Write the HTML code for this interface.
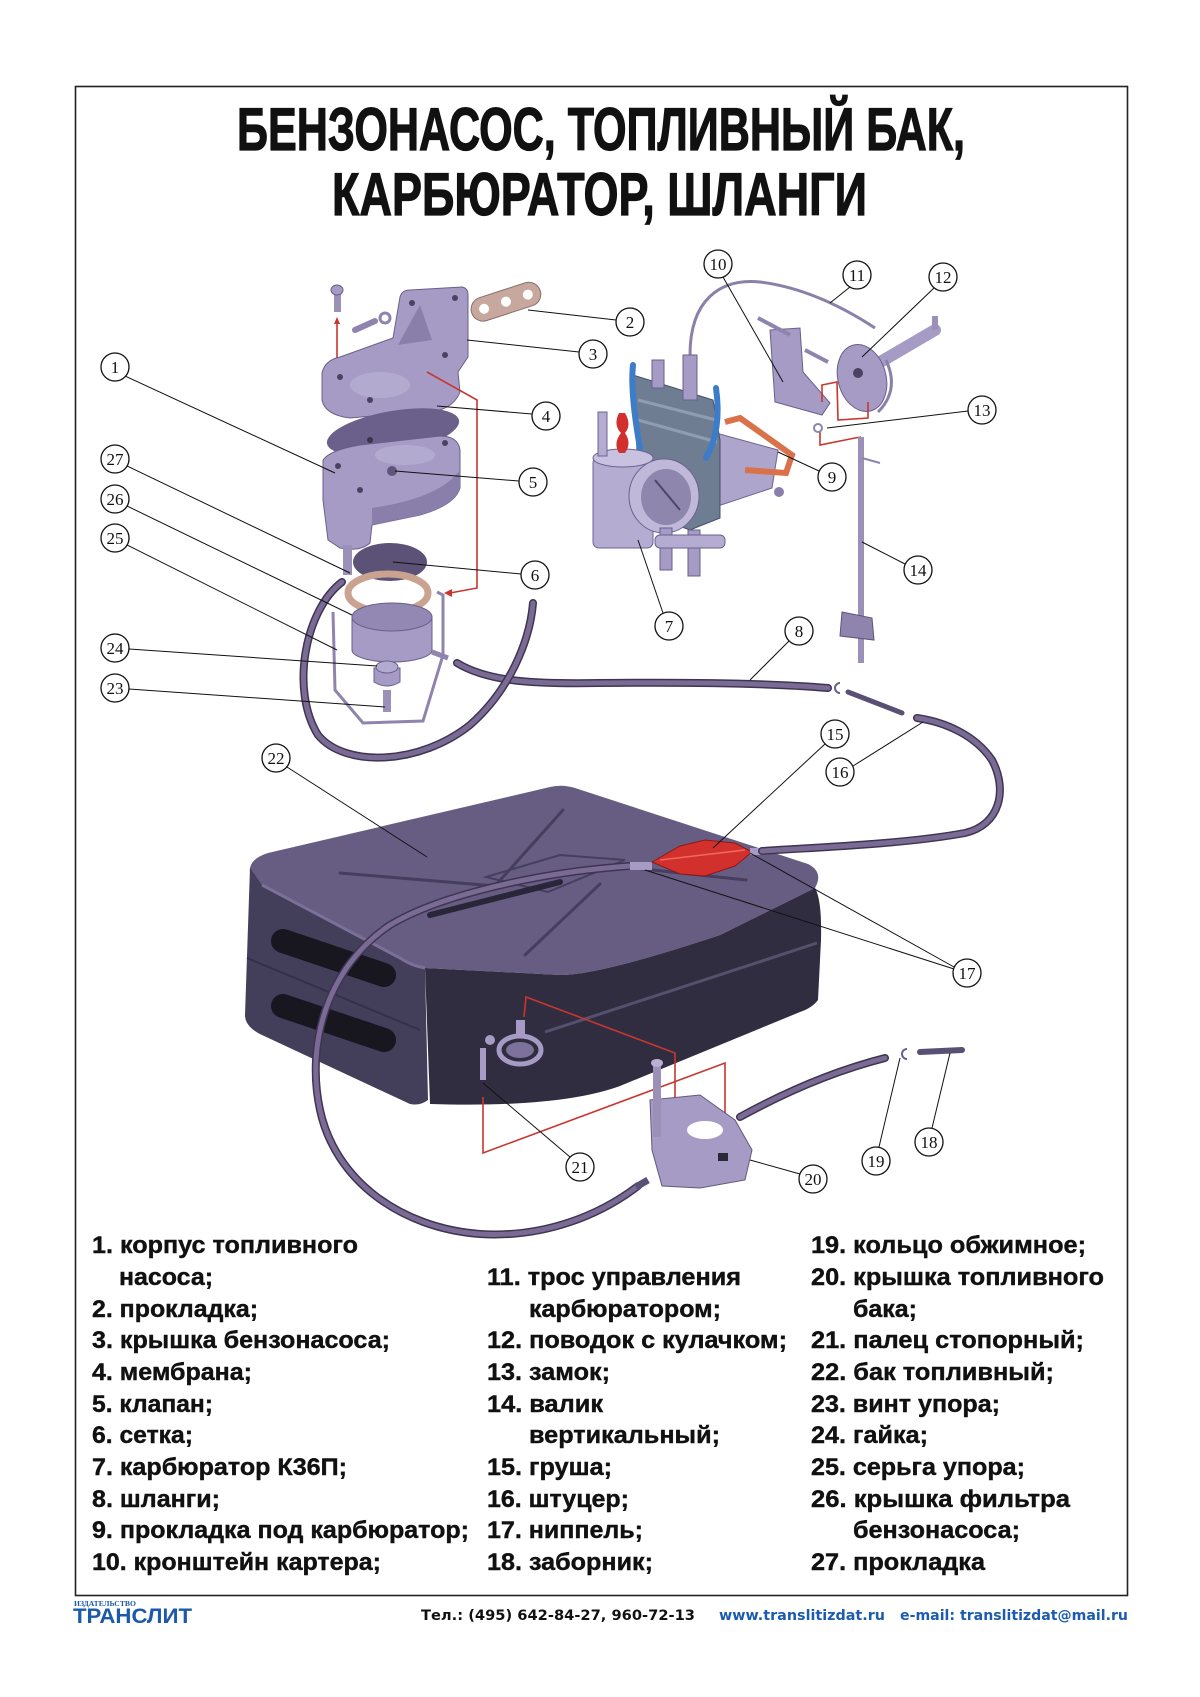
<!DOCTYPE html>
<html><head><meta charset="utf-8"><style>
html,body{margin:0;padding:0;background:#fff;}
svg{display:block;}
.t{font-family:"Liberation Sans","DejaVu Sans",sans-serif;font-weight:bold;fill:#111;}
.n{font-family:"Liberation Serif","DejaVu Serif",serif;font-size:17px;fill:#111;text-anchor:middle;}
.c{fill:#fff;stroke:#111;stroke-width:1.3;}
.l{stroke:#111;stroke-width:1;fill:none;}
.met{fill:#a59bc4;stroke:#6a5f8c;stroke-width:1;}
.hose{fill:none;stroke:#3f3452;stroke-width:8;stroke-linecap:round;}
.hosei{fill:none;stroke:#7a6b95;stroke-width:5;stroke-linecap:round;}
.red{fill:none;stroke:#c8362e;stroke-width:1.6;}
</style></head><body>
<svg width="1200" height="1697" viewBox="0 0 1200 1697" xmlns="http://www.w3.org/2000/svg">
<rect x="0" y="0" width="1200" height="1697" fill="#fff"/>
<rect x="75.5" y="86.5" width="1052" height="1509" fill="none" stroke="#222" stroke-width="1.6"/>

<!-- Title -->
<text class="t" x="237" y="150" font-size="60" stroke="#111" stroke-width="1.2" textLength="728" lengthAdjust="spacingAndGlyphs">БЕНЗОНАСОС, ТОПЛИВНЫЙ БАК,</text>
<text class="t" x="332" y="215" font-size="60" stroke="#111" stroke-width="1.2" textLength="535" lengthAdjust="spacingAndGlyphs">КАРБЮРАТОР, ШЛАНГИ</text>

<!-- ============ TANK ============ -->
<path d="M250,868 Q252,858 268,853 L550,787 Q562,784 575,788 L808,864 Q824,872 815,888 L720,935 Q600,975 560,975 L425,968 Q410,966 400,958 L262,885 Q248,878 250,868 Z" fill="#675d83"/>
<path d="M250,868 L262,885 L400,958 Q412,966 425,968 L428,1100 Q420,1106 410,1104 L262,1035 Q245,1027 245,1015 Z" fill="#433e5a"/>
<path d="M425,968 L560,975 Q600,975 720,935 L815,888 Q822,900 821,940 L818,1000 Q812,1008 800,1012 L620,1086 Q560,1108 430,1104 Z" fill="#302d40"/>
<path d="M545,1032 L817,943" stroke="#55506e" stroke-width="3" fill="none"/>
<path d="M247,958 L420,1030" stroke="#34304a" stroke-width="2" fill="none"/>
<!-- lighter rim of left face -->
<path d="M262,885 L400,958 Q412,966 425,968" fill="none" stroke="#7a7098" stroke-width="3"/>
<!-- slots -->
<line x1="283" y1="941" x2="384" y2="975" stroke="#18161f" stroke-width="24" stroke-linecap="round"/>
<line x1="283" y1="1006" x2="384" y2="1040" stroke="#18161f" stroke-width="24" stroke-linecap="round"/>
<!-- embossing on top -->
<g stroke="#463e5e" stroke-width="3" fill="none" stroke-linecap="round">
<path d="M340,873 L495,886"/>
<path d="M495,886 L563,810"/>
<path d="M615,866 L746,880"/>
<path d="M600,884 L525,955"/>
<path d="M486,877 L560,855 L625,860 L548,892 Z" stroke-width="2"/>
<path d="M430,915 L560,882" stroke="#2a263a" stroke-width="6"/>
</g>
<!-- filler cap area -->
<ellipse cx="520" cy="1050" rx="21" ry="14" fill="none" stroke="#a59bc4" stroke-width="5"/>
<ellipse cx="520" cy="1050" rx="14" ry="8" fill="#7d7299"/>
<rect x="516" y="1020" width="9" height="16" fill="#a59bc4"/>
<circle cx="490" cy="1040" r="5" fill="#a59bc4"/>
<rect x="480" y="1048" width="6" height="32" fill="#a59bc4"/>

<!-- red assembly lines at tank -->
<path class="red" d="M524,1017 L526,997 L675,1053 L675,1130"/>
<path class="red" d="M483,1097 L483,1153 L725,1063 L725,1140"/>

<!-- cap 20 -->
<path d="M650,1100 L700,1095 L735,1120 L752,1150 L745,1180 L700,1188 L662,1186 L652,1150 Z" fill="#a59bc4" stroke="#62587f" stroke-width="1"/>
<ellipse cx="705" cy="1130" rx="18" ry="9" fill="#fff"/>
<rect x="653" y="1062" width="8" height="75" fill="#9a90b8"/>
<ellipse cx="657" cy="1063" rx="6" ry="4" fill="#b9b0d4"/>
<rect x="718" y="1153" width="10" height="8" fill="#2b2838"/>

<!-- hose 19 piece and nipple 18 -->
<path class="hose" d="M740,1117 C780,1095 830,1072 885,1058"/>
<path class="hosei" d="M740,1117 C780,1095 830,1072 885,1058"/>
<path d="M907,1049 A5,5 0 1 0 907,1059" fill="none" stroke="#6a5f8c" stroke-width="2"/>
<line x1="920" y1="1052" x2="962" y2="1050" stroke="#5a4f74" stroke-width="6" stroke-linecap="round"/>

<!-- main hose around tank -->
<path class="hose" d="M630,866 C540,872 440,895 390,925 C330,965 305,1040 320,1110 C335,1180 400,1228 480,1234 C545,1238 600,1215 638,1186"/>
<path class="hosei" d="M630,866 C540,872 440,895 390,925 C330,965 305,1040 320,1110 C335,1180 400,1228 480,1234 C545,1238 600,1215 638,1186"/>
<line x1="636" y1="1187" x2="648" y2="1180" stroke="#5a4f74" stroke-width="7"/>

<!-- pear 15 -->
<rect x="630" y="862" width="22" height="8" fill="#a59bc4"/>
<path d="M652,862 L680,846 L705,840 L735,843 L752,852 L735,866 L705,876 L680,874 Z" fill="#d2302c" stroke="#8c1a17" stroke-width="1"/>
<path d="M660,860 L745,850" stroke="#f06a5c" stroke-width="1.5"/>
<rect x="750" y="848" width="12" height="7" fill="#a59bc4"/>

<!-- hose right loop -->
<path class="hose" d="M917,718 C945,722 975,735 992,760 C1008,790 1000,825 965,833 C900,845 800,848 762,851"/>
<path class="hosei" d="M917,718 C945,722 975,735 992,760 C1008,790 1000,825 965,833 C900,845 800,848 762,851"/>

<!-- hose 8 -->
<path class="hose" d="M457,663 C490,683 540,684 600,683 C700,682 780,684 828,688"/>
<path class="hosei" d="M457,663 C490,683 540,684 600,683 C700,682 780,684 828,688"/>
<path d="M840,683 A5,5 0 1 0 840,693" fill="none" stroke="#6a5f8c" stroke-width="2"/>
<line x1="848" y1="692" x2="902" y2="713" stroke="#5a4f74" stroke-width="5" stroke-linecap="round"/>

<!-- ============ PUMP ============ -->
<path class="hose" d="M342,582 C305,610 290,690 318,735 C345,768 420,765 470,725 C510,690 530,640 533,603"/>
<path class="hosei" d="M342,582 C305,610 290,690 318,735 C345,768 420,765 470,725 C510,690 530,640 533,603"/>
<path d="M333,612 L335,690 L363,723 L423,721 L443,655 L443,595 L437,592" fill="none" stroke="#8f84ad" stroke-width="3"/>
<rect x="334" y="288" width="7" height="24" fill="#9a90b8"/>
<ellipse cx="337" cy="290" rx="6" ry="5" fill="#a59bc4" stroke="#6a5f8c"/>
<path class="red" d="M337,320 L337,370"/>
<path d="M334,324 L337,317 L340,324 Z" fill="#c8362e"/>
<line x1="355" y1="330" x2="375" y2="321" stroke="#8f84ad" stroke-width="6" stroke-linecap="round"/>
<circle cx="385" cy="318" r="5" fill="none" stroke="#8f84ad" stroke-width="3"/>
<g transform="rotate(-18 505 302)">
<rect x="470" y="290" width="72" height="24" rx="12" fill="#c7a89e" stroke="#8a6e6a"/>
<circle cx="483" cy="302" r="5" fill="#fff"/><circle cx="506" cy="302" r="5" fill="#fff"/><circle cx="529" cy="302" r="5" fill="#fff"/>
</g>
<!-- cover 3 -->
<path class="met" d="M322,373 Q325,360 340,357 L393,338 L400,297 Q402,290 410,290 L462,287 Q468,288 468,295 L468,357 L458,372 L460,392 Q455,405 440,410 L350,418 Q325,415 322,400 Z"/>
<path d="M398,345 L420,305 L432,340 Z" fill="#8a7fab"/>
<circle cx="412" cy="303" r="3" fill="#4a4262"/><circle cx="455" cy="298" r="3" fill="#4a4262"/><circle cx="445" cy="355" r="3" fill="#4a4262"/>
<ellipse cx="380" cy="385" rx="30" ry="13" fill="#b3aacf"/>
<circle cx="340" cy="377" r="3" fill="#4a4262"/><circle cx="370" cy="400" r="3" fill="#4a4262"/>
<path class="red" d="M427,372 L477,400 L477,588 L450,593"/>
<path d="M452,589 L444,593 L452,597 Z" fill="#c8362e"/>
<!-- diaphragm 4 -->
<ellipse cx="393" cy="432" rx="67" ry="21" transform="rotate(-10 393 432)" fill="#6b5f8b"/>
<circle cx="370" cy="440" r="3" fill="#3a334e"/>
<!-- body 1 -->
<path class="met" d="M323,460 Q330,450 360,445 L440,436 Q458,436 460,450 L460,488 Q455,505 420,515 L372,525 L370,543 Q360,552 340,548 L328,540 L323,500 Z"/>
<path d="M372,525 L420,515 Q455,505 460,488 L460,470 Q440,498 372,508 Z" fill="#8a7fab"/>
<ellipse cx="405" cy="455" rx="30" ry="10" fill="#b3aacf"/>
<circle cx="392" cy="471" r="5" fill="#5f5479"/>
<circle cx="338" cy="466" r="3" fill="#4a4262"/><circle cx="445" cy="443" r="3" fill="#4a4262"/><circle cx="360" cy="490" r="3" fill="#4a4262"/>
<rect x="343" y="545" width="9" height="30" fill="#9a90b8"/>
<ellipse cx="390" cy="562" rx="37" ry="19" fill="#5c5176"/>
<ellipse cx="388" cy="593" rx="40" ry="19" fill="none" stroke="#c9a38f" stroke-width="7"/>
<path class="met" d="M352,617 L352,650 A40,12 0 0 0 432,650 L432,617 Z"/>
<ellipse cx="392" cy="617" rx="40" ry="14" fill="#9388b3" stroke="#6a5f8c"/>
<line x1="432" y1="652" x2="448" y2="658" stroke="#8f84ad" stroke-width="5"/>
<path class="met" d="M374,668 L374,682 Q387,690 400,682 L400,668 Z"/>
<ellipse cx="387" cy="667" rx="11" ry="6" fill="#b3aacf" stroke="#6a5f8c"/>
<rect x="383" y="690" width="8" height="22" fill="#9a90b8"/>

<!-- ============ CARBURETOR ============ -->
<path d="M690,355 C690,300 720,278 760,282 C800,287 840,305 875,328" fill="none" stroke="#8a80a8" stroke-width="3"/>
<!-- throat behind -->
<path d="M705,430 L778,450 L772,488 L712,508 Z" fill="#aea5cc" stroke="#6d6390"/>
<path d="M725,422 L740,418 L792,455 L786,473 L745,470" fill="none" stroke="#d9724a" stroke-width="6"/>
<circle cx="779" cy="492" r="5" fill="#8a7fab"/>
<!-- main body slab -->
<path d="M633,375 L713,400 L720,440 L720,518 L690,530 L640,512 L636,430 Z" fill="#6f7d92" stroke="#44506a"/>
<path d="M638,400 L716,420 M638,420 L717,442" stroke="#8f9db0" stroke-width="3"/>
<path d="M633,365 Q630,392 640,448" fill="none" stroke="#3d7cc9" stroke-width="6" stroke-linecap="round"/>
<path d="M716,388 Q722,430 706,458" fill="none" stroke="#3d7cc9" stroke-width="6" stroke-linecap="round"/>
<rect x="683" y="355" width="14" height="45" fill="#a59bc4" stroke="#6a5f8c"/>
<rect x="652" y="360" width="12" height="28" fill="#a59bc4" stroke="#6a5f8c"/>
<!-- float chamber -->
<rect x="593" y="457" width="60" height="91" rx="6" fill="#b5acd2" stroke="#6d6390"/>
<ellipse cx="623" cy="458" rx="30" ry="9" fill="#c9c1e0" stroke="#6d6390"/>
<rect x="598" y="412" width="9" height="44" fill="#b5acd2" stroke="#6d6390"/>
<path d="M619,413 Q613,425 621,433 Q613,443 619,453 L625,453 Q632,443 625,433 Q632,425 625,413 Z" fill="#d2302c"/>
<!-- bell -->
<ellipse cx="664" cy="496" rx="35" ry="37" fill="#c0b8d8" stroke="#6d6390"/>
<ellipse cx="666" cy="497" rx="25" ry="28" fill="#8f86ad"/>
<path d="M655,480 L680,510" stroke="#4e4668" stroke-width="2"/>
<!-- bottom tubes -->
<rect x="660" y="528" width="12" height="42" fill="#a59bc4" stroke="#6a5f8c"/>
<rect x="688" y="530" width="12" height="46" fill="#a59bc4" stroke="#6a5f8c"/>
<rect x="655" y="535" width="70" height="13" rx="5" fill="#b5acd2" stroke="#6a5f8c"/>
<!-- bracket 10 -->
<path class="met" d="M770,330 L800,328 L803,372 L830,403 L822,415 L775,402 Z"/>
<line x1="758" y1="318" x2="790" y2="335" stroke="#8f84ad" stroke-width="4"/>
<line x1="805" y1="350" x2="828" y2="362" stroke="#8f84ad" stroke-width="4"/>
<!-- lever 12 -->
<line x1="870" y1="368" x2="935" y2="330" stroke="#a59bc4" stroke-width="12" stroke-linecap="round"/>
<ellipse cx="862" cy="378" rx="24" ry="34" transform="rotate(-15 862 378)" fill="#a59bc4" stroke="#6a5f8c"/>
<circle cx="858" cy="373" r="5" fill="#4a4262"/>
<rect x="932" y="316" width="6" height="14" fill="#9a90b8"/>
<path d="M886,360 Q900,390 878,412" fill="none" stroke="#8a80a8" stroke-width="3"/>
<path class="red" d="M822,402 L822,385 L837,382 L838,420 L868,418 L868,402"/>
<path class="red" d="M820,432 L820,445 L855,438 L861,437"/>
<circle cx="818" cy="428" r="4" fill="none" stroke="#8f84ad" stroke-width="2"/>
<!-- shaft 14 -->
<line x1="861" y1="437" x2="861" y2="663" stroke="#9b90b8" stroke-width="6"/>
<line x1="862" y1="458" x2="880" y2="463" stroke="#8f84ad" stroke-width="2"/>
<path d="M842,612 L872,618 L874,640 L840,636 Z" fill="#8f84ad" stroke="#5e5379"/>

<!-- ============ LEADERS ============ -->
<g class="l">
<line x1="125" y1="376" x2="335" y2="473"/>
<line x1="616" y1="320" x2="528" y2="310"/>
<line x1="579" y1="352" x2="467" y2="340"/>
<line x1="532" y1="414" x2="437" y2="406"/>
<line x1="519" y1="481" x2="395" y2="471"/>
<line x1="521" y1="574" x2="393" y2="562"/>
<line x1="663" y1="613" x2="638" y2="540"/>
<line x1="789" y1="641" x2="750" y2="680"/>
<line x1="819" y1="471" x2="778" y2="452"/>
<line x1="723" y1="277" x2="783" y2="382"/>
<line x1="850" y1="287" x2="830" y2="303"/>
<line x1="934" y1="288" x2="862" y2="357"/>
<line x1="968" y1="411" x2="827" y2="428"/>
<line x1="905" y1="564" x2="862" y2="542"/>
<line x1="825" y1="744" x2="713" y2="848"/>
<line x1="853" y1="766" x2="923" y2="722"/>
<line x1="954" y1="967" x2="750" y2="853"/>
<line x1="954" y1="969" x2="645" y2="870"/>
<line x1="932" y1="1128" x2="950" y2="1053"/>
<line x1="879" y1="1147" x2="900" y2="1058"/>
<line x1="800" y1="1174" x2="750" y2="1160"/>
<line x1="570" y1="1157" x2="483" y2="1083"/>
<line x1="287" y1="767" x2="427" y2="857"/>
<line x1="129" y1="689" x2="385" y2="707"/>
<line x1="129" y1="649" x2="377" y2="666"/>
<line x1="127" y1="545" x2="337" y2="650"/>
<line x1="127" y1="506" x2="352" y2="615"/>
<line x1="127" y1="466" x2="350" y2="573"/>
</g>

<!-- ============ CALLOUTS ============ -->
<g>
<circle class="c" cx="115" cy="367" r="14"/><text class="n" x="115" y="373">1</text>
<circle class="c" cx="630" cy="322" r="14"/><text class="n" x="630" y="328">2</text>
<circle class="c" cx="593" cy="354" r="14"/><text class="n" x="593" y="360">3</text>
<circle class="c" cx="546" cy="416" r="14"/><text class="n" x="546" y="422">4</text>
<circle class="c" cx="533" cy="482" r="14"/><text class="n" x="533" y="488">5</text>
<circle class="c" cx="535" cy="575" r="14"/><text class="n" x="535" y="581">6</text>
<circle class="c" cx="669" cy="626" r="14"/><text class="n" x="669" y="632">7</text>
<circle class="c" cx="799" cy="631" r="14"/><text class="n" x="799" y="637">8</text>
<circle class="c" cx="832" cy="477" r="14"/><text class="n" x="832" y="483">9</text>
<circle class="c" cx="718" cy="264" r="14"/><text class="n" x="718" y="270">10</text>
<circle class="c" cx="857" cy="275" r="14"/><text class="n" x="857" y="281">11</text>
<circle class="c" cx="943" cy="277" r="14"/><text class="n" x="943" y="283">12</text>
<circle class="c" cx="982" cy="410" r="14"/><text class="n" x="982" y="416">13</text>
<circle class="c" cx="918" cy="570" r="14"/><text class="n" x="918" y="576">14</text>
<circle class="c" cx="835" cy="734" r="14"/><text class="n" x="835" y="740">15</text>
<circle class="c" cx="840" cy="772" r="14"/><text class="n" x="840" y="778">16</text>
<circle class="c" cx="967" cy="973" r="14"/><text class="n" x="967" y="979">17</text>
<circle class="c" cx="929" cy="1142" r="14"/><text class="n" x="929" y="1148">18</text>
<circle class="c" cx="876" cy="1161" r="14"/><text class="n" x="876" y="1167">19</text>
<circle class="c" cx="813" cy="1179" r="14"/><text class="n" x="813" y="1185">20</text>
<circle class="c" cx="580" cy="1167" r="14"/><text class="n" x="580" y="1173">21</text>
<circle class="c" cx="276" cy="758" r="14"/><text class="n" x="276" y="764">22</text>
<circle class="c" cx="115" cy="688" r="14"/><text class="n" x="115" y="694">23</text>
<circle class="c" cx="115" cy="648" r="14"/><text class="n" x="115" y="654">24</text>
<circle class="c" cx="115" cy="538" r="14"/><text class="n" x="115" y="544">25</text>
<circle class="c" cx="115" cy="499" r="14"/><text class="n" x="115" y="505">26</text>
<circle class="c" cx="115" cy="459" r="14"/><text class="n" x="115" y="465">27</text>
</g>

<!-- ============ LEGEND ============ -->
<g class="t" font-size="24" stroke="#111" stroke-width="0.4">
<text x="92" y="1253" textLength="266" lengthAdjust="spacingAndGlyphs">1. корпус топливного</text>
<text x="119" y="1285" textLength="94" lengthAdjust="spacingAndGlyphs">насоса;</text>
<text x="92" y="1317" textLength="166" lengthAdjust="spacingAndGlyphs">2. прокладка;</text>
<text x="92" y="1348" textLength="298" lengthAdjust="spacingAndGlyphs">3. крышка бензонасоса;</text>
<text x="92" y="1380" textLength="160" lengthAdjust="spacingAndGlyphs">4. мембрана;</text>
<text x="92" y="1412" textLength="121" lengthAdjust="spacingAndGlyphs">5. клапан;</text>
<text x="92" y="1443" textLength="101" lengthAdjust="spacingAndGlyphs">6. сетка;</text>
<text x="92" y="1475" textLength="255" lengthAdjust="spacingAndGlyphs">7. карбюратор К36П;</text>
<text x="92" y="1507" textLength="128" lengthAdjust="spacingAndGlyphs">8. шланги;</text>
<text x="92" y="1538" textLength="377" lengthAdjust="spacingAndGlyphs">9. прокладка под карбюратор;</text>
<text x="92" y="1570" textLength="289" lengthAdjust="spacingAndGlyphs">10. кронштейн картера;</text>

<text x="487" y="1285" textLength="254" lengthAdjust="spacingAndGlyphs">11. трос управления</text>
<text x="529" y="1317" textLength="192" lengthAdjust="spacingAndGlyphs">карбюратором;</text>
<text x="487" y="1348" textLength="300" lengthAdjust="spacingAndGlyphs">12. поводок с кулачком;</text>
<text x="487" y="1380" textLength="123" lengthAdjust="spacingAndGlyphs">13. замок;</text>
<text x="487" y="1412" textLength="116" lengthAdjust="spacingAndGlyphs">14. валик</text>
<text x="529" y="1443" textLength="191" lengthAdjust="spacingAndGlyphs">вертикальный;</text>
<text x="487" y="1475" textLength="125" lengthAdjust="spacingAndGlyphs">15. груша;</text>
<text x="487" y="1507" textLength="142" lengthAdjust="spacingAndGlyphs">16. штуцер;</text>
<text x="487" y="1538" textLength="156" lengthAdjust="spacingAndGlyphs">17. ниппель;</text>
<text x="487" y="1570" textLength="166" lengthAdjust="spacingAndGlyphs">18. заборник;</text>

<text x="811" y="1253" textLength="275" lengthAdjust="spacingAndGlyphs">19. кольцо обжимное;</text>
<text x="811" y="1285" textLength="293" lengthAdjust="spacingAndGlyphs">20. крышка топливного</text>
<text x="853" y="1317" textLength="64" lengthAdjust="spacingAndGlyphs">бака;</text>
<text x="811" y="1348" textLength="273" lengthAdjust="spacingAndGlyphs">21. палец стопорный;</text>
<text x="811" y="1380" textLength="243" lengthAdjust="spacingAndGlyphs">22. бак топливный;</text>
<text x="811" y="1412" textLength="189" lengthAdjust="spacingAndGlyphs">23. винт упора;</text>
<text x="811" y="1443" textLength="117" lengthAdjust="spacingAndGlyphs">24. гайка;</text>
<text x="811" y="1475" textLength="214" lengthAdjust="spacingAndGlyphs">25. серьга упора;</text>
<text x="811" y="1507" textLength="259" lengthAdjust="spacingAndGlyphs">26. крышка фильтра</text>
<text x="853" y="1538" textLength="167" lengthAdjust="spacingAndGlyphs">бензонасоса;</text>
<text x="811" y="1570" textLength="174" lengthAdjust="spacingAndGlyphs">27. прокладка</text>
</g>

<!-- ============ FOOTER ============ -->
<text x="74" y="1606" font-family="'Liberation Serif',serif" font-weight="bold" font-size="7" fill="#1a5aa8" textLength="62" lengthAdjust="spacingAndGlyphs">ИЗДАТЕЛЬСТВО</text>
<text x="73" y="1623" font-family="'Liberation Sans',sans-serif" font-weight="bold" font-size="21" fill="#1a5aa8" textLength="119" lengthAdjust="spacingAndGlyphs">ТРАНСЛИТ</text>
<text x="421" y="1620" font-family="'DejaVu Sans',sans-serif" font-weight="bold" font-size="14" fill="#111" textLength="274" lengthAdjust="spacingAndGlyphs">Тел.: (495) 642-84-27, 960-72-13</text>
<text x="719" y="1620" font-family="'DejaVu Sans',sans-serif" font-weight="bold" font-size="14" fill="#1c5bb0" textLength="166" lengthAdjust="spacingAndGlyphs">www.translitizdat.ru</text>
<text x="900" y="1620" font-family="'DejaVu Sans',sans-serif" font-weight="bold" font-size="14" fill="#1c5bb0" textLength="228" lengthAdjust="spacingAndGlyphs">e-mail: translitizdat@mail.ru</text>
</svg>
</body></html>
